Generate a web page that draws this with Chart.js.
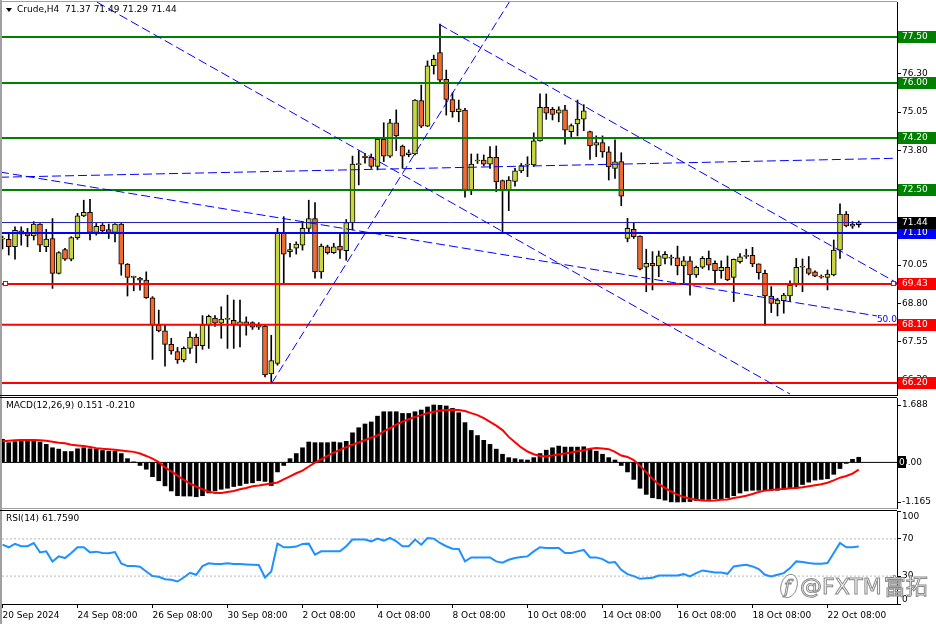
<!DOCTYPE html>
<html>
<head>
<meta charset="utf-8">
<script src="https://cdn.jsdelivr.net/npm/chart.js@4.4.1/dist/chart.umd.min.js"></script>
<style>
html, body { margin: 0; padding: 0; background: #fff; }
#wrap { position: relative; width: 936px; height: 624px; overflow: hidden; background: #fff; }
canvas { position: absolute; left: 0; }
</style>
</head>
<body>
<div id="wrap">
  <canvas id="mainChart" width="936" height="396" style="top:0px"></canvas>
  <canvas id="macdChart" width="936" height="113" style="top:396px"></canvas>
  <canvas id="rsiChart" width="936" height="115" style="top:509px"></canvas>
</div>
<script>
// ---- data (Crude, H4) ----
const tickLabels = ['20 Sep 2024', '24 Sep 08:00', '26 Sep 08:00', '30 Sep 08:00', '2 Oct 08:00', '4 Oct 08:00',
    '8 Oct 08:00', '10 Oct 08:00', '14 Oct 08:00', '16 Oct 08:00', '18 Oct 08:00', '22 Oct 08:00'];
const tickBars = [0, 12, 24, 36, 48, 60, 72, 84, 96, 108, 120, 132];

const openP = [70.90, 70.89, 70.65, 71.17, 71.08, 71.00, 71.39, 70.65, 70.92, 69.78,
    70.56, 70.24, 70.95, 71.66, 71.77, 71.12, 71.36, 71.21, 71.12, 71.39,
    70.08, 69.65, 69.62, 69.56, 68.98, 68.09, 67.90, 67.46, 67.23, 66.95,
    67.33, 67.70, 67.42, 68.09, 68.32, 68.15, 68.28, 68.25, 68.09, 68.20,
    68.17, 68.02, 68.06, 66.50, 66.84, 71.09, 70.49, 70.60, 70.70, 71.25,
    71.57, 69.83, 70.65, 70.46, 70.67, 70.52, 71.44, 73.33, 73.61, 73.57,
    73.27, 74.16, 73.61, 74.70, 73.94, 73.66, 73.68, 75.42, 74.59, 76.56,
    76.99, 76.12, 75.46, 75.06, 75.11, 72.48, 73.45, 73.48, 73.35, 73.57,
    72.81, 72.48, 72.78, 73.13, 73.32, 73.32, 74.11, 75.20, 75.14, 75.01,
    75.12, 74.41, 74.66, 74.82, 74.41, 73.97, 74.05, 73.75, 73.21, 73.43,
    70.92, 71.22, 71.00, 69.98, 70.11, 70.02, 70.27, 70.30, 70.29, 70.02,
    70.19, 69.73, 69.98, 70.27, 70.11, 69.87, 69.98, 69.65, 70.16, 70.33,
    70.37, 70.09, 69.78, 69.04, 68.78, 68.89, 69.04, 69.40, 69.98, 69.94,
    69.83, 69.67, 69.65, 69.73, 70.54, 71.72, 71.32, 71.37];
const highP = [71.00, 71.09, 71.30, 71.30, 71.25, 71.47, 71.41, 71.22, 71.57, 70.49,
    70.60, 70.98, 71.74, 72.17, 72.20, 71.41, 71.41, 71.39, 71.41, 71.41,
    70.10, 69.69, 69.65, 69.83, 69.02, 68.58, 68.09, 67.66, 67.36, 67.38,
    67.87, 67.80, 68.40, 68.42, 68.40, 68.69, 69.07, 68.91, 68.91, 68.36,
    68.20, 68.17, 68.09, 67.76, 71.25, 71.63, 70.76, 70.81, 71.47, 72.17,
    72.09, 70.74, 70.70, 70.76, 71.09, 71.54, 73.61, 73.79, 73.70, 73.68,
    74.19, 74.70, 74.81, 75.12, 73.97, 73.81, 75.46, 75.93, 76.72, 76.91,
    77.92, 76.42, 75.68, 75.44, 75.17, 73.68, 73.68, 73.65, 73.92, 73.94,
    72.83, 72.94, 73.21, 73.37, 73.59, 74.37, 75.64, 75.64, 75.20, 75.22,
    75.27, 74.66, 75.44, 75.29, 74.43, 74.27, 74.27, 73.92, 74.14, 73.72,
    71.58, 71.44, 71.01, 70.57, 70.49, 70.51, 70.49, 70.38, 70.67, 70.33,
    70.33, 70.02, 70.33, 70.51, 70.19, 70.19, 70.35, 70.25, 70.43, 70.57,
    70.63, 70.09, 69.89, 69.35, 68.97, 69.13, 69.54, 70.27, 70.25, 70.33,
    69.86, 69.73, 69.89, 70.87, 72.05, 71.80, 71.47, 71.49];
const lowP = [70.58, 70.38, 70.24, 70.70, 70.65, 70.87, 70.49, 70.49, 69.29, 69.76,
    70.20, 70.19, 70.89, 71.63, 70.87, 71.03, 71.09, 70.92, 70.81, 69.72,
    69.04, 69.21, 69.23, 68.96, 66.97, 67.87, 66.75, 67.14, 66.84, 66.89,
    67.17, 66.86, 67.30, 67.33, 68.05, 67.66, 67.33, 67.33, 67.38, 67.76,
    67.95, 67.95, 66.40, 66.20, 66.78, 69.47, 70.32, 70.41, 70.54, 71.14,
    69.62, 69.62, 70.41, 70.43, 70.27, 70.21, 71.20, 72.67, 73.38, 73.21,
    73.16, 73.43, 73.57, 73.79, 73.21, 73.59, 73.65, 74.54, 74.57, 76.29,
    76.01, 74.95, 74.88, 74.73, 72.27, 72.35, 73.37, 73.29, 73.21, 72.45,
    71.14, 71.83, 72.63, 73.07, 72.94, 73.27, 74.10, 74.81, 74.79, 74.73,
    74.00, 74.24, 74.27, 74.44, 73.50, 73.59, 73.57, 72.83, 72.88, 71.99,
    70.81, 70.92, 69.89, 69.18, 69.24, 69.67, 70.09, 70.05, 69.73, 69.46,
    69.07, 69.65, 69.94, 69.89, 69.48, 69.62, 69.54, 68.86, 70.11, 70.27,
    70.00, 69.59, 68.09, 68.50, 68.39, 68.48, 68.86, 69.35, 69.18, 69.73,
    69.67, 69.62, 69.24, 69.70, 70.27, 71.30, 71.25, 71.29];
const closeP = [70.92, 70.65, 71.19, 71.06, 71.00, 71.39, 70.70, 70.90, 69.78, 70.46,
    70.24, 70.95, 71.66, 71.77, 71.12, 71.32, 71.17, 71.12, 71.39, 70.08,
    69.65, 69.66, 69.56, 68.99, 68.09, 67.90, 67.46, 67.25, 66.95, 67.33,
    67.70, 67.42, 68.09, 68.38, 68.15, 68.29, 68.28, 68.10, 68.20, 68.09,
    68.02, 68.09, 66.46, 66.93, 71.11, 70.41, 70.56, 70.74, 71.25, 71.57,
    69.83, 70.67, 70.46, 70.65, 70.54, 71.44, 73.35, 73.35, 73.56, 73.27,
    74.16, 73.61, 74.70, 74.27, 73.61, 73.72, 75.44, 74.59, 76.56, 76.77,
    76.09, 75.46, 75.06, 75.15, 72.50, 73.35, 73.46, 73.35, 73.57, 72.77,
    72.48, 72.83, 73.13, 73.30, 73.33, 74.11, 75.20, 75.01, 74.97, 75.12,
    74.46, 74.61, 74.82, 75.09, 73.94, 74.05, 73.75, 73.26, 73.42, 72.30,
    71.25, 70.98, 69.92, 70.11, 70.02, 70.35, 70.40, 70.28, 70.02, 70.19,
    69.73, 69.98, 70.27, 70.05, 69.87, 69.98, 69.57, 70.24, 70.32, 70.37,
    70.09, 69.80, 69.04, 68.80, 68.91, 69.07, 69.40, 69.98, 70.00, 69.78,
    69.69, 69.66, 69.76, 70.54, 71.72, 71.33, 71.39, 71.44];

const macdHist = [0.68, 0.58, 0.61, 0.66, 0.66, 0.66, 0.60, 0.53, 0.43, 0.39,
    0.32, 0.32, 0.40, 0.43, 0.40, 0.39, 0.35, 0.33, 0.33, 0.26,
    0.11, 0.01, -0.09, -0.20, -0.42, -0.54, -0.69, -0.84, -0.98, -0.99,
    -0.99, -1.01, -0.98, -0.90, -0.84, -0.79, -0.76, -0.71, -0.68, -0.62,
    -0.60, -0.54, -0.56, -0.68, -0.28, -0.09, 0.11, 0.26, 0.43, 0.60,
    0.58, 0.58, 0.58, 0.60, 0.58, 0.62, 0.87, 1.02, 1.13, 1.19,
    1.36, 1.49, 1.49, 1.49, 1.44, 1.44, 1.49, 1.54, 1.63, 1.688,
    1.68, 1.66, 1.59, 1.46, 1.17, 0.94, 0.79, 0.65, 0.53, 0.39,
    0.24, 0.14, 0.11, 0.08, 0.07, 0.14, 0.26, 0.36, 0.43, 0.48,
    0.45, 0.45, 0.45, 0.46, 0.39, 0.33, 0.24, 0.14, 0.07, -0.09,
    -0.28, -0.50, -0.76, -0.94, -1.04, -1.07, -1.11, -1.16, -1.165, -1.16,
    -1.15, -1.12, -1.09, -1.09, -1.07, -1.07, -1.04, -0.98, -0.90, -0.84,
    -0.82, -0.82, -0.82, -0.82, -0.82, -0.79, -0.77, -0.75, -0.65, -0.58,
    -0.52, -0.50, -0.48, -0.35, -0.18, -0.03, 0.09, 0.151];
const macdSignal = [0.62, 0.64, 0.65, 0.66, 0.66, 0.66, 0.65, 0.64, 0.61, 0.58,
    0.56, 0.52, 0.50, 0.48, 0.45, 0.42, 0.40, 0.39, 0.37, 0.35,
    0.33, 0.31, 0.26, 0.19, 0.11, 0.01, -0.15, -0.26, -0.39, -0.51,
    -0.62, -0.71, -0.79, -0.86, -0.90, -0.90, -0.87, -0.84, -0.79, -0.75,
    -0.70, -0.68, -0.65, -0.62, -0.59, -0.50, -0.41, -0.32, -0.24, -0.12,
    -0.01, 0.09, 0.19, 0.29, 0.37, 0.45, 0.52, 0.59, 0.66, 0.73,
    0.79, 0.91, 1.01, 1.11, 1.20, 1.27, 1.34, 1.39, 1.45, 1.49,
    1.52, 1.54, 1.55, 1.54, 1.51, 1.45, 1.39, 1.30, 1.19, 1.08,
    0.95, 0.75, 0.59, 0.44, 0.32, 0.24, 0.19, 0.18, 0.20, 0.23,
    0.26, 0.29, 0.33, 0.36, 0.40, 0.42, 0.41, 0.39, 0.31, 0.20,
    0.16, 0.07, -0.10, -0.29, -0.48, -0.64, -0.75, -0.86, -0.95, -1.02,
    -1.07, -1.10, -1.12, -1.13, -1.12, -1.10, -1.09, -1.05, -1.02, -0.98,
    -0.93, -0.87, -0.83, -0.81, -0.79, -0.78, -0.76, -0.75, -0.73, -0.70,
    -0.67, -0.64, -0.60, -0.53, -0.45, -0.40, -0.33, -0.21];

const rsi14 = [63.8, 61.0, 64.6, 62.1, 62.1, 65.6, 55.5, 56.6, 45.8, 51.2,
    49.4, 54.8, 61.0, 61.0, 55.5, 56.3, 54.8, 54.5, 55.9, 43.7,
    40.8, 40.8, 40.1, 35.0, 30.0, 29.2, 26.7, 26.0, 24.2, 28.5,
    33.6, 31.4, 40.8, 43.7, 43.0, 43.0, 43.7, 43.0, 43.0, 42.6,
    42.2, 41.9, 28.5, 35.0, 64.9, 61.0, 61.0, 61.7, 64.6, 64.9,
    53.0, 56.6, 56.6, 56.6, 56.6, 62.1, 69.3, 69.3, 69.3, 67.4,
    70.3, 68.2, 71.0, 67.4, 62.1, 62.1, 69.3, 63.8, 71.0, 70.3,
    65.6, 62.1, 59.5, 59.2, 45.8, 50.1, 50.1, 50.1, 50.1, 45.8,
    44.4, 47.6, 49.4, 50.5, 51.2, 56.6, 61.0, 60.2, 60.2, 60.2,
    54.8, 54.8, 56.6, 58.1, 50.1, 50.1, 48.3, 44.4, 45.1, 36.8,
    32.1, 30.0, 27.1, 27.8, 28.2, 30.7, 30.7, 30.7, 30.7, 32.1,
    29.6, 33.2, 36.1, 35.0, 33.9, 33.9, 32.5, 40.4, 41.5, 42.2,
    40.4, 37.5, 31.4, 29.6, 31.4, 33.2, 38.6, 45.8, 45.1, 44.0,
    43.3, 43.3, 44.0, 54.8, 65.6, 61.0, 61.0, 61.759];

const priceTicks = [66.30, 67.55, 68.80, 70.05, 71.30, 72.55, 73.80, 75.05, 76.30, 77.55];
const macdTicks = [-1.165, 0, 1.688];
const rsiTicks = [0, 30, 70, 100];
const rsiLevels = [30, 70];

const greenLevels = [77.50, 76.00, 74.20, 72.50];
const redLevels = [69.43, 68.10, 66.20];
const blueLevel = 71.10;
const bidLevel = 71.44;

// trend lines as [bar index, price] anchor pairs
const trendLines = [
    [[15.1, 78.64], [126.0, 65.84]],
    [[43.07, 66.19], [81.2, 78.68]],
    [[-0.4, 73.09], [139.9, 68.39]],
    [[-0.4, 72.92], [143.1, 73.54]],
    [[69.84, 77.92], [143.1, 69.47]]
];
const fanLabel = { text: '50.0', at: [139.9, 68.39] };

// ---- chart setup ----
const idxMin = -0.08, idxMax = 143.12;
const bars = openP.map((_, i) => i);
const bullCol = '#c9d63c', bearCol = '#f26a2e';
const axisFont = { family: 'DejaVu Sans', size: 9 };
const font9 = '9px "DejaVu Sans"';

function fixAxis(s) {
    s.width = 39;
    s.paddingTop = 0;
    s.paddingBottom = 0;
}

function hiddenX() {
    return { type: 'linear', min: idxMin, max: idxMax, display: false, offset: false, grid: { offset: false } };
}

function flatLine(v, color, width, dash) {
    return {
        type: 'line',
        data: [{ x: idxMin, y: v }, { x: idxMax, y: v }],
        borderColor: color, borderWidth: width, borderDash: dash || [],
        pointRadius: 0, order: 1
    };
}

function yAxis(min, max, tickValues, fmt, showLabels) {
    return {
        position: 'right', min: min, max: max, beginAtZero: false,
        afterBuildTicks: s => { s.ticks = tickValues.map(v => ({ value: v })); },
        afterFit: fixAxis,
        ticks: { display: showLabels, callback: fmt, color: '#000', font: axisFont, padding: 1, autoSkip: false },
        grid: { drawOnChartArea: false, drawTicks: true, tickLength: 4, color: '#000' },
        border: { display: true, color: '#000' }
    };
}

const baseOptions = {
    responsive: false,
    animation: false,
    events: [],
    plugins: { legend: { display: false }, tooltip: { enabled: false } }
};

function drawFrame(ctx, chart, topColor, bottomColor) {
    const a = chart.chartArea;
    ctx.fillStyle = '#a0a0a0';
    ctx.fillRect(0, 0, 2, chart.height);
    if (topColor) {
        ctx.fillStyle = topColor;
        ctx.fillRect(0, a.top - 1, a.right, 1);
    }
    if (bottomColor) {
        ctx.fillStyle = bottomColor;
        ctx.fillRect(0, a.bottom, a.right, 1);
    }
}

const mainOverlay = {
    id: 'mainOverlay',
    afterDraw(chart) {
        const ctx = chart.ctx;
        const a = chart.chartArea;
        const x = chart.scales.x, y = chart.scales.y;
        ctx.save();
        drawFrame(ctx, chart, '#a0a0a0', '#000');

        // header
        const last = openP.length - 1;
        ctx.fillStyle = '#000';
        ctx.beginPath();
        ctx.moveTo(6, 8); ctx.lineTo(12, 8); ctx.lineTo(9, 12); ctx.closePath();
        ctx.fill();
        ctx.font = font9;
        ctx.textBaseline = 'middle';
        ctx.textAlign = 'left';
        ctx.fillText('Crude,H4  ' + [openP[last], highP[last], lowP[last], closeP[last]].map(v => v.toFixed(2)).join(' '), 17, 10);

        // fan level text
        ctx.fillStyle = '#0000ff';
        ctx.fillText(fanLabel.text, x.getPixelForValue(fanLabel.at[0]), y.getPixelForValue(fanLabel.at[1]) + 4);

        // selection squares on the 69.43 line
        const py = Math.round(y.getPixelForValue(redLevels[0]));
        ctx.strokeStyle = '#ff0000';
        ctx.lineWidth = 1;
        ctx.fillStyle = '#fff';
        [a.left + 1, a.right - 6].forEach(px => {
            ctx.fillRect(px + 0.5, py - 2.5, 4, 4);
            ctx.strokeRect(px + 0.5, py - 2.5, 4, 4);
        });

        // price boxes on the axis
        const boxes = greenLevels.map(v => [v, '#008000'])
            .concat(redLevels.map(v => [v, '#ff0000']))
            .concat([[blueLevel, '#0000ff'], [bidLevel, '#000000']]);
        boxes.forEach(([v, col]) => {
            const by = y.getPixelForValue(v);
            ctx.fillStyle = col;
            ctx.fillRect(a.right + 1, Math.round(by) - 6, chart.width - a.right - 1, 12);
            ctx.fillStyle = '#fff';
            ctx.fillText(v.toFixed(2), a.right + 5, by);
        });
        ctx.restore();
    }
};

new Chart(document.getElementById('mainChart'), {
    type: 'bar',
    data: {
        datasets: trendLines.map(t => ({
            type: 'line',
            data: t.map(p => ({ x: p[0], y: p[1] })),
            borderColor: '#0000ff', borderWidth: 1, borderDash: [9, 4],
            pointRadius: 0, order: 0
        })).concat(
            greenLevels.map(v => flatLine(v, '#008000', 2)),
            redLevels.map(v => flatLine(v, '#ff0000', 2)),
            [flatLine(blueLevel, '#0000ff', 2), flatLine(bidLevel, '#1c1ca8', 1)],
            [{
                label: 'body',
                data: bars.map(i => ({ x: i, y: [Math.min(openP[i], closeP[i]), Math.max(openP[i], closeP[i])] })),
                backgroundColor: bars.map(i => closeP[i] >= openP[i] ? bullCol : bearCol),
                borderColor: '#000', borderWidth: 1, borderSkipped: false,
                barThickness: 5, minBarLength: 1, grouped: false, order: 2
            }, {
                label: 'wick',
                data: bars.map(i => ({ x: i, y: [lowP[i], highP[i]] })),
                backgroundColor: '#000', borderWidth: 0,
                barThickness: 1, grouped: false, order: 3
            }]
        )
    },
    options: Object.assign({}, baseOptions, {
        layout: { padding: { left: 2, top: 2, right: 0, bottom: 1 } },
        scales: {
            x: hiddenX(),
            y: yAxis(65.808, 78.643, priceTicks, v => v.toFixed(2), true)
        }
    }),
    plugins: [mainOverlay]
});

const macdOverlay = {
    id: 'macdOverlay',
    afterDraw(chart) {
        const ctx = chart.ctx;
        const a = chart.chartArea;
        const y = chart.scales.y;
        ctx.save();
        drawFrame(ctx, chart, '#000', '#a0a0a0');
        ctx.font = font9;
        ctx.textBaseline = 'middle';
        ctx.textAlign = 'left';
        ctx.fillStyle = '#000';
        ctx.fillText('MACD(12,26,9) ' + macdHist[macdHist.length - 1].toFixed(3) + ' ' +
            macdSignal[macdSignal.length - 1].toFixed(3), 6, a.top + 8);
        const y0 = y.getPixelForValue(0);
        ctx.fillRect(a.right + 1, Math.round(y0) - 6, 8, 12);
        ctx.fillStyle = '#fff';
        ctx.fillText('0', a.right + 2, y0);
        ctx.restore();
    }
};

new Chart(document.getElementById('macdChart'), {
    type: 'bar',
    data: {
        datasets: [{
            type: 'line',
            data: bars.map(i => ({ x: i, y: macdSignal[i] })),
            borderColor: '#ff0000', borderWidth: 2, pointRadius: 0, order: 0
        },
        flatLine(0, '#000', 1),
        {
            label: 'MACD',
            data: bars.map(i => ({ x: i, y: macdHist[i] })),
            backgroundColor: '#000', borderWidth: 0,
            barThickness: 4, grouped: false, order: 2
        }]
    },
    options: Object.assign({}, baseOptions, {
        layout: { padding: { left: 2, top: 2, right: 0, bottom: 1 } },
        scales: {
            x: hiddenX(),
            y: yAxis(-1.341, 1.894, macdTicks, v => v === 0 ? '0.00' : v.toFixed(3), true)
        }
    }),
    plugins: [macdOverlay]
});

const rsiOverlay = {
    id: 'rsiOverlay',
    afterDraw(chart) {
        const ctx = chart.ctx;
        const a = chart.chartArea;
        const y = chart.scales.y;
        ctx.save();
        drawFrame(ctx, chart, '#000', null);
        ctx.font = font9;
        ctx.textBaseline = 'middle';
        ctx.textAlign = 'left';
        ctx.fillStyle = '#000';
        ctx.fillText('RSI(14) ' + rsi14[rsi14.length - 1].toFixed(4), 6, a.top + 8);
        rsiTicks.forEach(v => {
            const py = Math.min(Math.max(y.getPixelForValue(v), a.top + 6), a.bottom - 4);
            ctx.fillText(String(v), a.right + 5, py);
        });

        // watermark
        ctx.lineWidth = 1;
        ctx.strokeStyle = '#8a8a8a';
        ctx.fillStyle = '#fff';
        ctx.textBaseline = 'alphabetic';
        const wy = a.bottom - 10;
        ctx.beginPath();
        ctx.ellipse(789, wy - 8, 8, 12, 0.3, 0, Math.PI * 2);
        ctx.fill();
        ctx.stroke();
        ctx.font = 'italic 18px "DejaVu Serif"';
        ctx.strokeText('f', 784, wy - 1);
        ctx.font = '22px "DejaVu Sans"';
        ctx.fillText('@FXTM', 800, wy);
        ctx.strokeText('@FXTM', 800, wy);
        const w = ctx.measureText('@FXTM').width;
        ctx.font = '22px "Noto Sans CJK SC"';
        ctx.fillText('富拓', 802 + w, wy);
        ctx.strokeText('富拓', 802 + w, wy);
        ctx.restore();
    }
};

new Chart(document.getElementById('rsiChart'), {
    type: 'line',
    data: {
        datasets: [{
            data: bars.map(i => ({ x: i, y: rsi14[i] })),
            borderColor: '#1e90ff', borderWidth: 2, pointRadius: 0, order: 0
        }].concat(rsiLevels.map(v => flatLine(v, '#b8b8b8', 1, [2, 2])))
    },
    options: Object.assign({}, baseOptions, {
        layout: { padding: { left: 2, top: 2, right: 0, bottom: 0 } },
        scales: {
            x: {
                type: 'linear', min: idxMin, max: idxMax, offset: false,
                afterBuildTicks: s => { s.ticks = tickBars.map(v => ({ value: v })); },
                afterFit: s => { s.height = 20; s.paddingLeft = 0; s.paddingRight = 0; },
                ticks: {
                    callback: v => tickLabels[tickBars.indexOf(v)],
                    align: 'start', maxRotation: 0, minRotation: 0, autoSkip: false,
                    color: '#000', font: axisFont, padding: 2
                },
                grid: { offset: false, drawOnChartArea: false, drawTicks: true, tickLength: 4, color: '#000' },
                border: { display: true, color: '#000' }
            },
            y: yAxis(0, 100, rsiTicks, v => String(v), false)
        }
    }),
    plugins: [rsiOverlay]
});
</script>
</body>
</html>
